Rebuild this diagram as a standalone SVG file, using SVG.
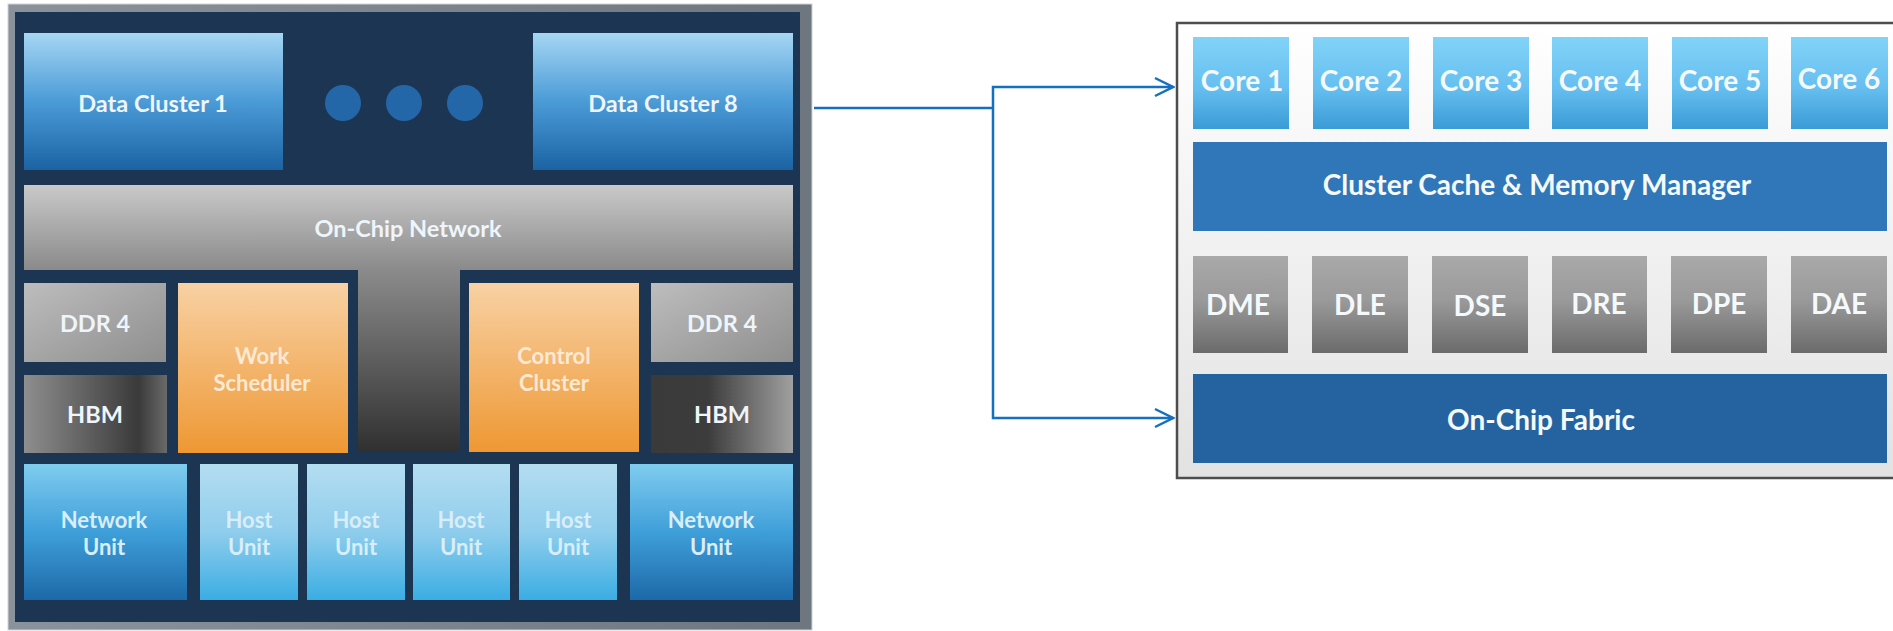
<svg xmlns="http://www.w3.org/2000/svg" width="1893" height="631" viewBox="0 0 1893 631">
<style>
text{font-family:Lato,"Open Sans","Liberation Sans",sans-serif;font-weight:700;text-anchor:middle}
.lt{font-size:23.5px;fill:#eef5fb}
.or{font-size:22px;fill:#fbe9d3}
.hu{font-size:22px;fill:#d8eef9}
.rt{font-size:28px;fill:#f4f9fc}
.conn{fill:none;stroke:#1570c0;stroke-width:2.5}
</style>
<defs>
<linearGradient id="gDC" x1="0" y1="0" x2="0" y2="1"><stop offset="0" stop-color="#a6d6f3"/><stop offset="0.5" stop-color="#4b9bd7"/><stop offset="1" stop-color="#1b63a3"/></linearGradient>
<linearGradient id="gNet" x1="0" y1="0" x2="0" y2="1"><stop offset="0" stop-color="#c9c9c9"/><stop offset="1" stop-color="#8a8a8a"/></linearGradient>
<linearGradient id="gStem" x1="0" y1="0" x2="0" y2="1"><stop offset="0" stop-color="#8c8c8c"/><stop offset="1" stop-color="#303030"/></linearGradient>
<linearGradient id="gDDR" x1="0" y1="0" x2="1" y2="1"><stop offset="0" stop-color="#bdbdbd"/><stop offset="1" stop-color="#8e8e8e"/></linearGradient>
<linearGradient id="gHBML" x1="0" y1="0" x2="1" y2="0"><stop offset="0" stop-color="#8e8e8e"/><stop offset="0.8" stop-color="#3a3a3a"/><stop offset="1" stop-color="#6a6a6a"/></linearGradient>
<linearGradient id="gHBMR" x1="0" y1="0" x2="1" y2="0"><stop offset="0" stop-color="#3a3a3a"/><stop offset="0.4" stop-color="#3c3c3c"/><stop offset="1" stop-color="#a0a0a0"/></linearGradient>
<linearGradient id="gOr" x1="0" y1="0" x2="0" y2="1"><stop offset="0" stop-color="#f8d1a4"/><stop offset="1" stop-color="#ee9833"/></linearGradient>
<linearGradient id="gNU" x1="0" y1="0" x2="0" y2="1"><stop offset="0" stop-color="#7fccef"/><stop offset="0.5" stop-color="#3f9fd9"/><stop offset="1" stop-color="#1c69a8"/></linearGradient>
<linearGradient id="gHU" x1="0" y1="0" x2="0" y2="1"><stop offset="0" stop-color="#b4ddf1"/><stop offset="0.5" stop-color="#8fcdec"/><stop offset="1" stop-color="#3badE3"/></linearGradient>
<linearGradient id="gCore" x1="0" y1="0" x2="0" y2="1"><stop offset="0" stop-color="#82d3f7"/><stop offset="0.55" stop-color="#66bff0"/><stop offset="1" stop-color="#3a9bd6"/></linearGradient>
<linearGradient id="gEng" x1="0" y1="0" x2="0" y2="1"><stop offset="0" stop-color="#a9a9a9"/><stop offset="0.45" stop-color="#9a9a9a"/><stop offset="1" stop-color="#6b6b6b"/></linearGradient>
<linearGradient id="gPanel" x1="0" y1="0" x2="0" y2="1"><stop offset="0" stop-color="#ffffff"/><stop offset="1" stop-color="#e2e2e2"/></linearGradient>
<linearGradient id="gChip" x1="0" y1="0" x2="1" y2="0"><stop offset="0" stop-color="#8a929c"/><stop offset="1" stop-color="#6e7680"/></linearGradient>
<marker id="arr" markerUnits="userSpaceOnUse" viewBox="0 0 22 22" refX="20" refY="11" markerWidth="22" markerHeight="22" orient="auto">
<path d="M2,2 L20,11 L2,20" fill="none" stroke="#1570c0" stroke-width="2.5"/>
</marker>
</defs>
<rect width="1893" height="631" fill="#ffffff"/>

<g id="chip">
<rect x="8" y="4" width="804" height="626" fill="url(#gChip)" stroke="#d0d3d6" stroke-width="1"/>
<rect x="15" y="12" width="785" height="610" fill="#1c3553"/>
</g>

<g id="data-cluster-1"><rect x="24" y="33" width="259" height="137" fill="url(#gDC)"/><text class="lt" x="153" y="112">Data Cluster 1</text></g>
<g id="dots"><circle cx="343" cy="103" r="18" fill="#2467a9"/><circle cx="404" cy="103" r="18" fill="#2467a9"/><circle cx="465" cy="103" r="18" fill="#2467a9"/></g>
<g id="data-cluster-8"><rect x="533" y="33" width="260" height="137" fill="url(#gDC)"/><text class="lt" x="663" y="112">Data Cluster 8</text></g>

<g id="on-chip-network">
<rect x="358" y="268" width="102" height="184" fill="url(#gStem)"/>
<rect x="24" y="185" width="769" height="85" fill="url(#gNet)"/>
<text class="lt" x="408" y="237">On-Chip Network</text>
</g>

<g id="ddr4-left"><rect x="24" y="283" width="142" height="79" fill="url(#gDDR)"/><text class="lt" x="95" y="332">DDR 4</text></g>
<g id="hbm-left"><rect x="24" y="375" width="143" height="78" fill="url(#gHBML)"/><text class="lt" x="95" y="423">HBM</text></g>
<g id="work-scheduler"><rect x="178" y="283" width="170" height="170" fill="url(#gOr)"/><text class="or" x="262" y="364">Work</text><text class="or" x="262" y="391">Scheduler</text></g>
<g id="control-cluster"><rect x="469" y="283" width="170" height="169" fill="url(#gOr)"/><text class="or" x="554" y="364">Control</text><text class="or" x="554" y="391">Cluster</text></g>
<g id="ddr4-right"><rect x="651" y="283" width="142" height="79" fill="url(#gDDR)"/><text class="lt" x="722" y="332">DDR 4</text></g>
<g id="hbm-right"><rect x="651" y="375" width="142" height="78" fill="url(#gHBMR)"/><text class="lt" x="722" y="423">HBM</text></g>

<g id="network-unit-left"><rect x="24" y="464" width="163" height="136" fill="url(#gNU)"/><text class="hu" x="104" y="528">Network</text><text class="hu" x="104" y="555">Unit</text></g>
<g id="host-unit-1"><rect x="200" y="464" width="98" height="136" fill="url(#gHU)"/><text class="hu" x="249" y="528">Host</text><text class="hu" x="249" y="555">Unit</text></g>
<g id="host-unit-2"><rect x="307" y="464" width="98" height="136" fill="url(#gHU)"/><text class="hu" x="356" y="528">Host</text><text class="hu" x="356" y="555">Unit</text></g>
<g id="host-unit-3"><rect x="413" y="464" width="97" height="136" fill="url(#gHU)"/><text class="hu" x="461" y="528">Host</text><text class="hu" x="461" y="555">Unit</text></g>
<g id="host-unit-4"><rect x="519" y="464" width="98" height="136" fill="url(#gHU)"/><text class="hu" x="568" y="528">Host</text><text class="hu" x="568" y="555">Unit</text></g>
<g id="network-unit-right"><rect x="630" y="464" width="163" height="136" fill="url(#gNU)"/><text class="hu" x="711" y="528">Network</text><text class="hu" x="711" y="555">Unit</text></g>

<g id="connectors">
<path class="conn" d="M814,108 H993"/>
<path class="conn" d="M993,108 V87 H1173" marker-end="url(#arr)"/>
<path class="conn" d="M993,108 V418 H1173" marker-end="url(#arr)"/>
</g>

<g id="cluster-panel">
<rect x="1177" y="23" width="720" height="455" fill="url(#gPanel)" stroke="#4d4d4d" stroke-width="2.5"/>
</g>
<g id="core-1"><rect x="1193" y="37" width="96" height="92" fill="url(#gCore)"/><text class="rt" x="1242" y="91">Core 1</text></g>
<g id="core-2"><rect x="1313" y="37" width="96" height="92" fill="url(#gCore)"/><text class="rt" x="1361" y="91">Core 2</text></g>
<g id="core-3"><rect x="1433" y="37" width="96" height="92" fill="url(#gCore)"/><text class="rt" x="1481" y="91">Core 3</text></g>
<g id="core-4"><rect x="1552" y="37" width="96" height="92" fill="url(#gCore)"/><text class="rt" x="1600" y="91">Core 4</text></g>
<g id="core-5"><rect x="1672" y="37" width="96" height="92" fill="url(#gCore)"/><text class="rt" x="1720" y="91">Core 5</text></g>
<g id="core-6"><rect x="1791" y="37" width="97" height="92" fill="url(#gCore)"/><text class="rt" x="1839" y="89">Core 6</text></g>
<g id="cluster-cache"><rect x="1193" y="142" width="694" height="89" fill="#2f77b8"/><text class="rt" x="1537" y="195">Cluster Cache &amp; Memory Manager</text></g>
<g id="dme"><rect x="1193" y="256" width="95" height="97" fill="url(#gEng)"/><text class="rt" x="1238" y="315">DME</text></g>
<g id="dle"><rect x="1312" y="256" width="96" height="97" fill="url(#gEng)"/><text class="rt" x="1360" y="315">DLE</text></g>
<g id="dse"><rect x="1432" y="256" width="96" height="97" fill="url(#gEng)"/><text class="rt" x="1480" y="316">DSE</text></g>
<g id="dre"><rect x="1552" y="256" width="95" height="97" fill="url(#gEng)"/><text class="rt" x="1599" y="314">DRE</text></g>
<g id="dpe"><rect x="1671" y="256" width="96" height="97" fill="url(#gEng)"/><text class="rt" x="1719" y="314">DPE</text></g>
<g id="dae"><rect x="1791" y="256" width="96" height="97" fill="url(#gEng)"/><text class="rt" x="1839" y="314">DAE</text></g>
<g id="on-chip-fabric"><rect x="1193" y="374" width="694" height="89" fill="#2562a0"/><text class="rt" x="1541" y="430">On-Chip Fabric</text></g>
</svg>
